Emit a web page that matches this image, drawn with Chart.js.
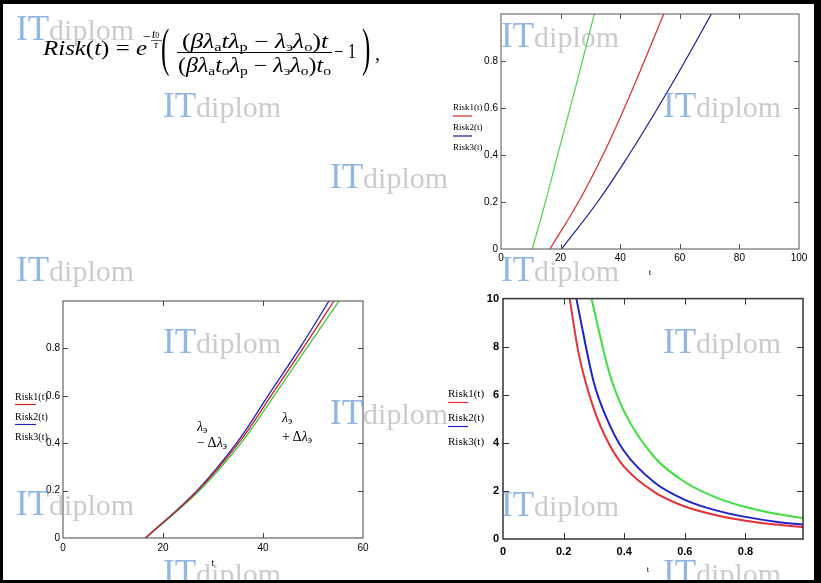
<!DOCTYPE html>
<html>
<head>
<meta charset="utf-8">
<script src="https://cdn.jsdelivr.net/npm/chart.js@4.4.1/dist/chart.umd.min.js"></script>
<style>
  html, body { margin: 0; padding: 0; background: #000; width: 821px; height: 583px; overflow: hidden; }
  #page { position: absolute; left: 3px; top: 4px; width: 811px; height: 576px; overflow: hidden; background: #fff; }
  #inner { position: absolute; left: -3px; top: -4px; width: 821px; height: 583px; }
  .box { position: absolute; }
  #overlay { position: absolute; left: 0; top: 0; pointer-events: none; }
</style>
</head>
<body>
<div id="page"><div id="inner">
  <div class="box" id="boxTop" style="left:440px;top:5px;width:372px;height:280px;"><canvas id="cTop"></canvas></div>
  <div class="box" id="boxLeft" style="left:3px;top:290px;width:375px;height:290px;"><canvas id="cLeft"></canvas></div>
  <div class="box" id="boxDec" style="left:440px;top:288px;width:374px;height:292px;"><canvas id="cDec"></canvas></div>
  <svg id="overlay" width="821" height="583" xmlns="http://www.w3.org/2000/svg">
    <g font-family="Liberation Serif, Times New Roman, serif" fill="#000">
      <text x="43" y="55" font-size="21" textLength="104" lengthAdjust="spacingAndGlyphs"><tspan font-style="italic">Risk</tspan>(<tspan font-style="italic">t</tspan>) = <tspan font-style="italic">e</tspan></text>
      <text x="143" y="41" font-size="14">−</text>
      <text x="152" y="38" font-size="12" font-style="italic">t<tspan font-style="normal" font-size="8">0</tspan></text>
      <line x1="151" x2="162" y1="40.5" y2="40.5" stroke="#000" stroke-width="0.6"/>
      <text x="154" y="48" font-size="11" font-style="italic">τ</text>
      <text transform="translate(161,65) scale(1,2.1)" font-size="25">(</text>
      <text x="182" y="48" font-size="20" textLength="146" lengthAdjust="spacingAndGlyphs">(<tspan font-style="italic">βλ</tspan><tspan font-size="13" dy="3">a</tspan><tspan font-style="italic" dy="-3">tλ</tspan><tspan font-size="13" dy="3">p</tspan><tspan dy="-3"> −  </tspan><tspan font-style="italic">λ</tspan><tspan font-size="13" dy="3">э</tspan><tspan font-style="italic" dy="-3">λ</tspan><tspan font-size="13" dy="3">o</tspan><tspan dy="-3">)</tspan><tspan font-style="italic">t</tspan></text>
      <line x1="177" x2="332" y1="52.5" y2="52.5" stroke="#000" stroke-width="1.2"/>
      <text x="178" y="72" font-size="20" textLength="153" lengthAdjust="spacingAndGlyphs">(<tspan font-style="italic">βλ</tspan><tspan font-size="13" dy="3">a</tspan><tspan font-style="italic" dy="-3">t</tspan><tspan font-size="13" dy="3">o</tspan><tspan font-style="italic" dy="-3">λ</tspan><tspan font-size="13" dy="3">p</tspan><tspan dy="-3"> −  </tspan><tspan font-style="italic">λ</tspan><tspan font-size="13" dy="3">э</tspan><tspan font-style="italic" dy="-3">λ</tspan><tspan font-size="13" dy="3">o</tspan><tspan dy="-3">)</tspan><tspan font-style="italic">t</tspan><tspan font-size="13" dy="3">o</tspan></text>
      <text x="334" y="58" font-size="20" textLength="22" lengthAdjust="spacingAndGlyphs">− 1</text>
      <text transform="translate(362,65) scale(1,2.1)" font-size="25">)</text>
      <text x="375" y="60" font-size="20">,</text>

      <text x="197" y="431" font-size="14"><tspan font-style="italic">λ</tspan><tspan font-size="10" dy="2">э</tspan></text>
      <text x="197" y="447" font-size="14">− Δ<tspan font-style="italic">λ</tspan><tspan font-size="10" dy="2">э</tspan></text>
      <text x="282" y="422" font-size="14"><tspan font-style="italic">λ</tspan><tspan font-size="10" dy="2">э</tspan></text>
      <text x="282" y="441" font-size="14">+ Δ<tspan font-style="italic">λ</tspan><tspan font-size="10" dy="2">э</tspan></text>
    </g>
    <g id="marks" font-family="Liberation Serif, Times New Roman, serif"></g>
  </svg>
</div></div>

<script>
// ---------------- data ----------------
const seriesLabels = ['Risk1(t)', 'Risk2(t)', 'Risk3(t)'];

// Top-right chart: Risk levels and the t at which each curve reaches them
const riskLevels = [0, 0.2, 0.4, 0.6, 0.8, 1.0];
const topRisk1T = [16.4, 26.0, 34.2, 41.4, 48.1, 54.6];
const topRisk2T = [20.3, 32.4, 42.9, 52.6, 61.8, 70.6];
const topRisk3T = [10.5, 14.9, 19.0, 23.2, 27.3, 31.3];
const topXTicks = [0, 20, 40, 60, 80, 100];
const topYTicks = [0, 0.2, 0.4, 0.6, 0.8];

// Bottom-left chart (sensitivity to λэ ± Δλэ)
const leftRisk1T = [16.5, 27.0, 35.1, 41.6, 48.0, 54.2];
const leftRisk2T = [16.5, 26.8, 34.7, 41.0, 47.3, 53.2];
const leftRisk3T = [16.5, 27.3, 35.6, 42.2, 48.7, 55.2];
const leftXTicks = [0, 20, 40, 60];
const leftYTicks = [0, 0.2, 0.4, 0.6, 0.8];

// Bottom-right chart (decreasing curves)
const decRisk1T = [0.22, 0.25, 0.3, 0.35, 0.4, 0.5, 0.6, 0.7, 0.8, 0.9, 0.99];
const decRisk1  = [10.0, 7.7, 5.4, 3.95, 3.0, 1.95, 1.35, 1.0, 0.76, 0.6, 0.49];
const decRisk2T = [0.242, 0.3, 0.35, 0.4, 0.5, 0.6, 0.7, 0.8, 0.9, 0.99];
const decRisk2  = [10.0, 6.5, 4.8, 3.65, 2.35, 1.63, 1.2, 0.92, 0.72, 0.6];
const decRisk3T = [0.292, 0.35, 0.4, 0.5, 0.6, 0.7, 0.8, 0.9, 0.99];
const decRisk3  = [10.0, 6.95, 5.3, 3.4, 2.37, 1.74, 1.33, 1.05, 0.87];
const decXTicks = [0, 0.2, 0.4, 0.6, 0.8];
const decYTicks = [0, 2, 4, 6, 8, 10];

// watermark anchor points [x, baseline]
const watermarkSpots = [[16,40],[501,47],[163,117],[663,117],[330,188],[16,281],[501,281],
  [163,353],[663,353],[330,424],[16,515],[501,516],[163,584],[663,584]];

// ---------------- helpers ----------------
const pts = (xs, ys) => xs.map((x, i) => ({ x: x, y: ys[i] }));
const fmt = v => String(Number(v.toFixed(2)));

const mathcadFrame = {
  id: 'mathcadFrame',
  afterDraw(chart, args, o) {
    const { ctx, chartArea: a } = chart;
    const xs = chart.scales.x, ys = chart.scales.y;
    ctx.save();
    ctx.strokeStyle = o.frameColor; ctx.lineWidth = o.frameWidth;
    ctx.strokeRect(a.left, a.top, a.right - a.left, a.bottom - a.top);
    ctx.lineWidth = o.tickWidth;
    ctx.beginPath();
    xs.ticks.forEach(t => {
      if (t.value <= xs.min + 1e-9 || t.value >= xs.max - 1e-9) return;
      const p = Math.round(xs.getPixelForValue(t.value)) + 0.5;
      ctx.moveTo(p, a.bottom); ctx.lineTo(p, a.bottom - o.tickLen);
      ctx.moveTo(p, a.top); ctx.lineTo(p, a.top + o.tickLen);
    });
    ys.ticks.forEach(t => {
      if (t.value <= ys.min + 1e-9 || t.value >= ys.max - 1e-9) return;
      const p = Math.round(ys.getPixelForValue(t.value)) + 0.5;
      ctx.moveTo(a.left, p); ctx.lineTo(a.left + o.tickLen, p);
      ctx.moveTo(a.right, p); ctx.lineTo(a.right - o.tickLen, p);
    });
    ctx.stroke();
    ctx.fillStyle = '#000';
    ctx.font = o.titleFont; ctx.textAlign = 'center'; ctx.textBaseline = 'middle';
    ctx.fillText(o.title, o.titleX != null ? o.titleX : (a.left + a.right) / 2, a.bottom + o.titleDy);
    ctx.font = o.legendFont; ctx.textAlign = 'left';
    chart.data.datasets.forEach((ds, i) => {
      const y = o.legendTop + i * o.legendGap;
      ctx.fillStyle = '#000';
      ctx.fillText(ds.label, o.legendX, y);
      if (o.legendLines[i]) {
        ctx.strokeStyle = ds.borderColor; ctx.lineWidth = 1.2;
        ctx.beginPath(); ctx.moveTo(o.legendX, y + o.lineDy); ctx.lineTo(o.legendX + o.lineLen, y + o.lineDy); ctx.stroke();
      }
    });
    ctx.restore();
  }
};

function makeChart(id, cfg) {
  const box = cfg.box;
  const ds = cfg.series.map((s, i) => ({
    label: seriesLabels[i], data: s.data, borderColor: s.color, borderWidth: cfg.lineWidth,
    pointRadius: 0, fill: false,
    cubicInterpolationMode: cfg.monotone ? 'monotone' : 'default', tension: 0.4
  }));
  const tickFont = { family: 'Liberation Sans, Arial, sans-serif', size: cfg.tickSize, weight: cfg.tickWeight };
  return new Chart(document.getElementById(id), {
    type: 'line',
    data: { datasets: ds },
    options: {
      responsive: true, maintainAspectRatio: false, animation: false,
      layout: { padding: { top: cfg.area.top - box.top, right: box.left + box.w - cfg.area.right, left: 0, bottom: 0 } },
      plugins: {
        legend: { display: false }, tooltip: { enabled: false },
        mathcadFrame: {
          frameColor: cfg.frameColor, frameWidth: cfg.frameWidth, tickWidth: 1, tickLen: cfg.tickLen,
          title: 't', titleFont: cfg.titleFont, titleDy: cfg.titleDy, titleX: cfg.titleX != null ? cfg.titleX - box.left : null,
          legendFont: cfg.legendFont, legendX: cfg.legend.x - box.left, legendTop: cfg.legend.y - box.top,
          legendGap: cfg.legend.gap, legendLines: [true, true, false], lineDy: cfg.legend.lineDy, lineLen: cfg.legend.lineLen
        }
      },
      scales: {
        x: {
          type: 'linear', min: cfg.xMin, max: cfg.xMax,
          grid: { display: false, drawTicks: false }, border: { display: false },
          afterBuildTicks: s => { s.ticks = cfg.xTicks.map(v => ({ value: v })); },
          ticks: { font: tickFont, color: '#000', padding: cfg.xPad, maxRotation: 0, autoSkip: false, callback: v => fmt(v) },
          afterFit: s => { s.height = box.top + box.h - cfg.area.bottom; }
        },
        y: {
          type: 'linear', min: cfg.yMin, max: cfg.yMax,
          grid: { display: false, drawTicks: false }, border: { display: false },
          afterBuildTicks: s => { s.ticks = cfg.yTicks.map(v => ({ value: v })); },
          ticks: { font: tickFont, color: '#000', padding: cfg.yPad, autoSkip: false, callback: v => fmt(v) },
          afterFit: s => { s.width = cfg.area.left - box.left; }
        }
      }
    },
    plugins: [mathcadFrame]
  });
}

makeChart('cTop', {
  box: { left: 440, top: 5, w: 372, h: 280 },
  area: { left: 501, right: 799, top: 13, bottom: 249 },
  xMin: 0, xMax: 100, yMin: 0, yMax: 1, xTicks: topXTicks, yTicks: topYTicks,
  series: [
    { data: pts(topRisk1T, riskLevels), color: '#d62a2a' },
    { data: pts(topRisk2T, riskLevels), color: '#1c1c94' },
    { data: pts(topRisk3T, riskLevels), color: '#52d452' }
  ],
  monotone: false,
  lineWidth: 1.2, tickSize: 10, tickWeight: 'normal', xPad: 3, yPad: 3,
  frameColor: '#555', frameWidth: 1, tickLen: 5,
  titleFont: '9px Liberation Serif', titleDy: 24,
  legendFont: '9px Liberation Serif', legend: { x: 453, y: 108, gap: 20, lineDy: 8, lineLen: 19 }
});

makeChart('cLeft', {
  box: { left: 3, top: 290, w: 375, h: 290 },
  area: { left: 63, right: 363, top: 301, bottom: 538 },
  xMin: 0, xMax: 60, yMin: 0, yMax: 1, xTicks: leftXTicks, yTicks: leftYTicks,
  series: [
    { data: pts(leftRisk1T, riskLevels), color: '#c82222' },
    { data: pts(leftRisk2T, riskLevels), color: '#2424b4' },
    { data: pts(leftRisk3T, riskLevels), color: '#38c838' }
  ],
  monotone: false,
  lineWidth: 1.3, tickSize: 10, tickWeight: 'normal', xPad: 4, yPad: 3,
  frameColor: '#444', frameWidth: 1, tickLen: 5,
  titleFont: '10px Liberation Serif', titleDy: 25,
  legendFont: '10px Liberation Serif', legend: { x: 15, y: 397, gap: 20, lineDy: 7.5, lineLen: 21 }
});

makeChart('cDec', {
  box: { left: 440, top: 288, w: 374, h: 292 },
  area: { left: 503, right: 803, top: 296, bottom: 539 },
  xMin: 0, xMax: 0.99, yMin: 0, yMax: 10, xTicks: decXTicks, yTicks: decYTicks,
  series: [
    { data: pts(decRisk1T, decRisk1), color: '#e5303a' },
    { data: pts(decRisk2T, decRisk2), color: '#2222cc' },
    { data: pts(decRisk3T, decRisk3), color: '#3ee03e' }
  ],
  monotone: true,
  lineWidth: 2, tickSize: 11, tickWeight: 'bold', xPad: 6, yPad: 4,
  frameColor: '#333', frameWidth: 1.5, tickLen: 6,
  titleFont: '9px Liberation Serif', titleDy: 31, titleX: 648,
  legendFont: '11px Liberation Serif', legend: { x: 448, y: 394, gap: 24, lineDy: 8.5, lineLen: 20 }
});

// watermarks (on top, semi-transparent)
const g = document.getElementById('marks');
const NS = 'http://www.w3.org/2000/svg';
watermarkSpots.forEach(([x, y]) => {
  const t = document.createElementNS(NS, 'text');
  t.setAttribute('x', x); t.setAttribute('y', y);
  const a = document.createElementNS(NS, 'tspan');
  a.setAttribute('fill', 'rgba(74,134,214,0.6)'); a.setAttribute('font-size', '35'); a.textContent = 'IT';
  const b = document.createElementNS(NS, 'tspan');
  b.setAttribute('fill', 'rgba(140,140,140,0.45)'); b.setAttribute('font-size', '30'); b.textContent = 'diplom';
  t.appendChild(a); t.appendChild(b); g.appendChild(t);
});
</script>
</body>
</html>
